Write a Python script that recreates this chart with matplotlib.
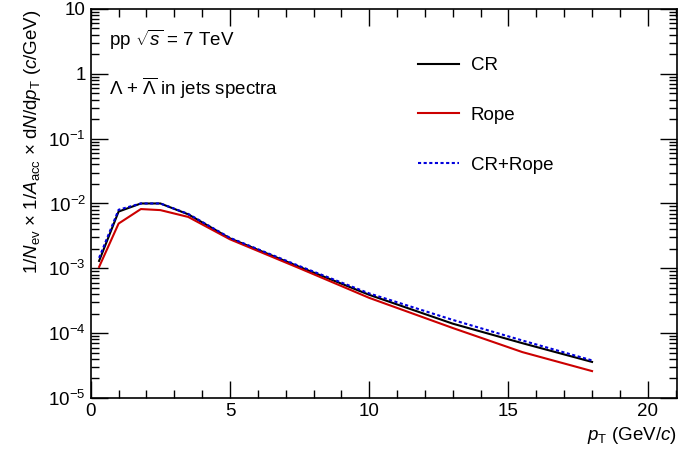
import matplotlib
matplotlib.use("Agg")
import matplotlib.pyplot as plt
from matplotlib.ticker import FixedLocator, LogLocator, NullFormatter, MultipleLocator

plt.rcParams["font.family"] = ["Liberation Sans", "DejaVu Sans"]
plt.rcParams["mathtext.fontset"] = "custom"
plt.rcParams["mathtext.rm"] = "Liberation Sans"
plt.rcParams["mathtext.it"] = "Liberation Sans:italic"

pt = [0.3, 1.0, 1.8, 2.5, 3.5, 5.0, 7.5, 10.0, 13.0, 15.5, 18.0]
cr = [1.3e-3, 7.5e-3, 1.0e-2, 1.0e-2, 6.8e-3, 2.9e-3, 1.05e-3, 3.9e-4, 1.4e-4, 7.0e-5, 3.6e-5]
rope = [1.05e-3, 4.9e-3, 8.2e-3, 7.9e-3, 6.2e-3, 2.8e-3, 1.0e-3, 3.5e-4, 1.2e-4, 5.1e-5, 2.6e-5]
cr_rope = [1.45e-3, 8.0e-3, 1.0e-2, 1.0e-2, 6.9e-3, 2.95e-3, 1.08e-3, 4.1e-4, 1.6e-4, 7.7e-5, 3.8e-5]

ytick_vals = [1e-5, 1e-4, 1e-3, 1e-2, 1e-1, 1, 10]
ytick_labels = [r"$10^{-5}$", r"$10^{-4}$", r"$10^{-3}$", r"$10^{-2}$", r"$10^{-1}$", "1", "10"]

fig = plt.figure(figsize=(6.98, 4.71), dpi=100)
ax = fig.add_axes([0.130, 0.155, 0.8395, 0.826])

ax.plot(pt, cr, color="black", lw=1.5, label="CR")
ax.plot(pt, rope, color="#cc0000", lw=1.5, label="Rope")
ax.plot(pt, cr_rope, color="#0000dd", lw=1.5, ls=(0, (1.5, 1.2)), label="CR+Rope")

ax.set_yscale("log")
ax.set_xlim(0, 21.04)
ax.set_ylim(1e-5, 10)
ax.yaxis.set_major_locator(FixedLocator(ytick_vals))
ax.set_yticklabels(ytick_labels)
ax.yaxis.set_minor_locator(LogLocator(base=10, subs=range(2, 10), numticks=20))
ax.yaxis.set_minor_formatter(NullFormatter())
ax.xaxis.set_major_locator(MultipleLocator(5))
ax.xaxis.set_minor_locator(MultipleLocator(1))

ax.tick_params(which="both", direction="in", top=True, right=True, labelsize=13.5, width=1)
ax.tick_params(which="major", length=12)
ax.tick_params(which="minor", length=6)
for s in ax.spines.values():
    s.set_linewidth(1.2)

ax.set_xlabel(r"$p_{\rm T}$ (GeV/$c$)", fontsize=13.5, loc="right")
ax.set_ylabel(r"1/$N_{\rm ev}$ $\times$ 1/$A_{\rm acc}$ $\times$ d$N$/d$p_{\rm T}$ ($c$/GeV)",
              fontsize=13.5, loc="top")

ax.text(0.032, 0.905, r"pp $\sqrt{s}$ = 7 TeV", transform=ax.transAxes, fontsize=13.5)
ax.text(0.032, 0.78, r"$\Lambda$ + $\overline{\Lambda}$ in jets spectra", transform=ax.transAxes, fontsize=13.5)

ax.legend(loc="upper left", bbox_to_anchor=(0.53, 0.92), frameon=False, fontsize=13.5,
          handlelength=2.2, labelspacing=1.75, handletextpad=0.6)

fig.savefig("out.png", dpi=100)
